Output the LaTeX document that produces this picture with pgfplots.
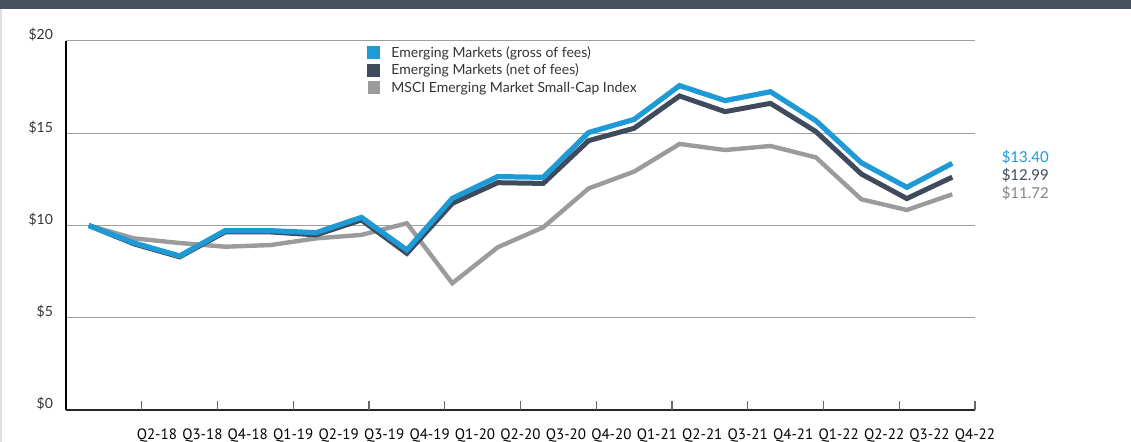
\documentclass[border=0pt]{standalone}
\usepackage{pgfplots}
\pgfplotsset{compat=1.18}
\usepackage{fontspec}
\setmainfont{Lato}
\newfontfamily\lato{Lato}
\newfontfamily\ptsans{PT Sans}
\definecolor{blueC}{HTML}{1E9AD6}
\definecolor{netC}{HTML}{3F4B5C}
\definecolor{grayC}{HTML}{9B9B9E}
\definecolor{barC}{HTML}{45515F}
\definecolor{txtC}{HTML}{333333}

\pgfplotstableread{
i gross net idx
0 10.00 10.00 10.00
1 9.05 9.00 9.30
2 8.35 8.30 9.05
3 9.72 9.65 8.85
4 9.72 9.65 8.94
5 9.61 9.49 9.30
6 10.44 10.30 9.49
7 8.67 8.49 10.12
8 11.47 11.20 6.87
9 12.65 12.32 8.82
10 12.61 12.28 9.90
11 15.04 14.60 12.01
12 15.75 15.27 12.92
13 17.58 17.02 14.42
14 16.77 16.17 14.09
15 17.25 16.62 14.31
16 15.68 15.09 13.69
17 13.40 12.79 11.42
18 12.07 11.46 10.84
19 13.37 12.62 11.69
}\datatable

\begin{document}
\begin{tikzpicture}
\path[use as bounding box] (0,0) rectangle (565.5pt,221pt);
\fill[barC] (0,216.5pt) rectangle (565.5pt,221pt);
\fill[black!12] (0,0) rectangle (1pt,216.5pt);
\begin{axis}[
  at={(33pt,16pt)}, anchor=south west,
  scale only axis, width=454.5pt, height=184.5pt,
  xmin=-0.5, xmax=19.5, ymin=0, ymax=20,
  clip=false,
  axis x line*=bottom, axis y line*=left,
  x axis line style={line width=0.75pt, color=black!85},
  y axis line style={line width=1pt, color=black},
  ytick={0,5,10,15,20},
  yticklabels={\$0,\$5,\$10,\$15,\$20},
  ytick style={draw=none},
  yticklabel style={font=\lato\fontsize{7}{8}\selectfont, text=txtC, yshift=3pt, xshift=-3pt},
  ymajorgrids,
  grid style={line width=0.5pt, color=black!38},
  xtick={1.5,2.5,...,19.5},
  xticklabels={Q2-18,Q3-18,Q4-18,Q1-19,Q2-19,Q3-19,Q4-19,Q1-20,Q2-20,Q3-20,Q4-20,Q1-21,Q2-21,Q3-21,Q4-21,Q1-22,Q2-22,Q3-22,Q4-22},
  xtick style={draw=none},
  xticklabel style={font=\ptsans\fontsize{7.5}{8}\selectfont, text=black, yshift=-6pt},
  extra x ticks={1.1667,2.8333,4.5,6.1667,7.8333,9.5,11.1667,12.8333,14.5,16.1667,17.8333,19.5},
  extra x tick labels={},
  extra x tick style={major tick length=4.5pt, xtick style={draw=black!60, line width=0.6pt}, grid=none},
  legend style={at={(rel axis cs:0.331,0.99)}, anchor=north west, draw=none, fill=none,
    font=\lato\fontsize{7}{8}\selectfont, text=txtC, row sep=1.25pt, inner sep=0pt,
    nodes={inner sep=1pt, text height=5pt, text depth=0.5pt},
    /tikz/every odd column/.append style={column sep=4.5pt}},
  legend cell align=left,
  reverse legend,
  legend image code/.code={\fill (0pt,-2pt) rectangle (4pt,2pt);},
]
\addplot[color=grayC, line width=2.2pt] table[x=i, y=idx] {\datatable};
\addlegendentry{MSCI Emerging Market Small-Cap Index}
\addplot[color=netC, line width=2.5pt] table[x=i, y=net] {\datatable};
\addlegendentry{Emerging Markets (net of fees)}
\addplot[color=blueC, line width=2.6pt] table[x=i, y=gross] {\datatable};
\addlegendentry{Emerging Markets (gross of fees)}
\node[anchor=west, inner sep=0pt, font=\lato\fontsize{7.5}{8}\selectfont, text=blueC] at (axis cs:20.08,13.71) {\$13.40};
\node[anchor=west, inner sep=0pt, font=\lato\fontsize{7.5}{8}\selectfont, text=netC] at (axis cs:20.08,12.74) {\$12.99};
\node[anchor=west, inner sep=0pt, font=\lato\fontsize{7.5}{8}\selectfont, text=grayC!85!black] at (axis cs:20.08,11.76) {\$11.72};
\end{axis}
\end{tikzpicture}
\end{document}
